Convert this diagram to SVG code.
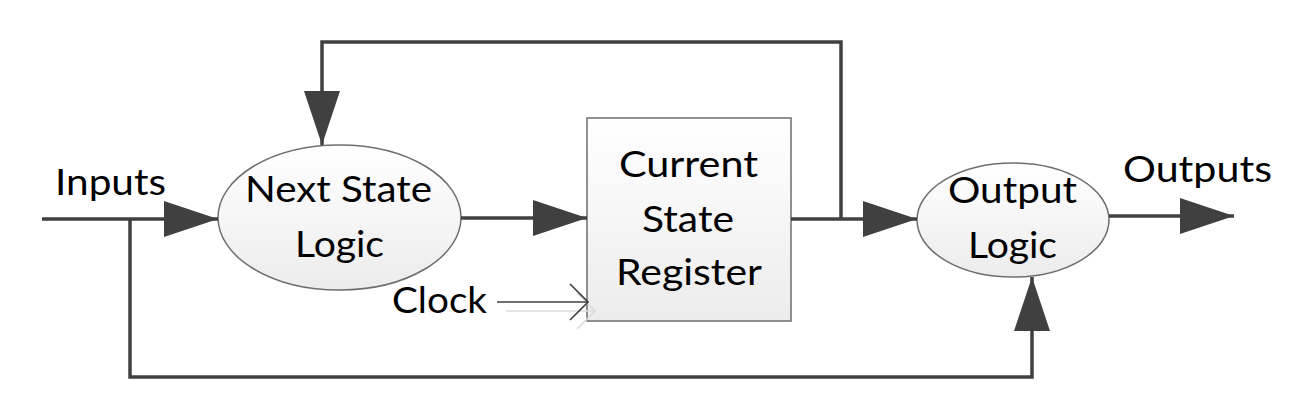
<svg xmlns="http://www.w3.org/2000/svg" width="1294" height="411" viewBox="0 0 1294 411">
  <style>
    .lbl { font-family: Lato, "Liberation Sans", sans-serif; font-size: 36px; fill: #000; }
    .conn { fill: none; stroke: #404040; stroke-width: 3.5; }
    .clk { fill: none; stroke: #404040; stroke-width: 1.6; }
    .shadow { fill: none; stroke: #dcdcdc; stroke-width: 1.6; }
    .node { stroke: #6e6e6e; stroke-width: 1.5; }
  </style>
  <defs>
    <linearGradient id="gfill" x1="0" y1="0" x2="0" y2="1">
      <stop offset="0" stop-color="#ffffff"/>
      <stop offset="1" stop-color="#ececec"/>
    </linearGradient>
    <marker id="arr" viewBox="0 0 54 36" refX="54" refY="18" markerWidth="54" markerHeight="36" markerUnits="userSpaceOnUse" orient="auto">
      <path d="M0,0 L54,18 L0,36 z" fill="#404040"/>
    </marker>
    <marker id="open" viewBox="0 0 20 38" refX="19" refY="19" markerWidth="20" markerHeight="38" markerUnits="userSpaceOnUse" orient="auto">
      <path d="M1,1 L19,19 L1,37" fill="none" stroke="#404040" stroke-width="1.6"/>
    </marker>
    <marker id="openShadow" viewBox="0 0 20 38" refX="19" refY="19" markerWidth="20" markerHeight="38" markerUnits="userSpaceOnUse" orient="auto">
      <path d="M1,1 L19,19 L1,37" fill="none" stroke="#dcdcdc" stroke-width="1.6"/>
    </marker>
  </defs>
  <rect width="1294" height="411" fill="#ffffff"/>

  <g id="next-state-logic">
    <ellipse class="node" cx="339.5" cy="217.5" rx="121.5" ry="72.5" fill="url(#gfill)"/>
    <text class="lbl" x="245" y="202" textLength="187" lengthAdjust="spacingAndGlyphs">Next State</text>
    <text class="lbl" x="295" y="257" textLength="89" lengthAdjust="spacingAndGlyphs">Logic</text>
  </g>

  <g id="current-state-register">
    <rect class="node" x="587" y="118" width="204" height="203" fill="url(#gfill)"/>
    <text class="lbl" x="619" y="177" textLength="139" lengthAdjust="spacingAndGlyphs">Current</text>
    <text class="lbl" x="642" y="232" textLength="92" lengthAdjust="spacingAndGlyphs">State</text>
    <text class="lbl" x="616" y="285" textLength="146" lengthAdjust="spacingAndGlyphs">Register</text>
  </g>

  <g id="output-logic">
    <ellipse class="node" cx="1013" cy="220" rx="96" ry="57" fill="url(#gfill)"/>
    <text class="lbl" x="948" y="203" textLength="129" lengthAdjust="spacingAndGlyphs">Output</text>
    <text class="lbl" x="968" y="258" textLength="89" lengthAdjust="spacingAndGlyphs">Logic</text>
  </g>

  <g id="inputs-label">
    <text class="lbl" x="55" y="195" textLength="111" lengthAdjust="spacingAndGlyphs">Inputs</text>
  </g>
  <g id="outputs-label">
    <text class="lbl" x="1123" y="182" textLength="149" lengthAdjust="spacingAndGlyphs">Outputs</text>
  </g>
  <g id="clock-label">
    <text class="lbl" x="392" y="313" textLength="95" lengthAdjust="spacingAndGlyphs">Clock</text>
  </g>

  <g id="connectors">
    <path class="conn" d="M42,219 H218" marker-end="url(#arr)"/>
    <path class="conn" d="M130,219 V377 H1032 V277" marker-end="url(#arr)"/>
    <path class="conn" d="M461,218 H587" marker-end="url(#arr)"/>
    <path class="conn" d="M791,219 H917" marker-end="url(#arr)"/>
    <path class="conn" d="M841,219 V42 H322 V145" marker-end="url(#arr)"/>
    <path class="conn" d="M1109,216 H1234" marker-end="url(#arr)"/>
    <path class="shadow" d="M506,311 H595" marker-end="url(#openShadow)"/>
    <path class="clk" d="M497,302 H588" marker-end="url(#open)"/>
  </g>
</svg>
